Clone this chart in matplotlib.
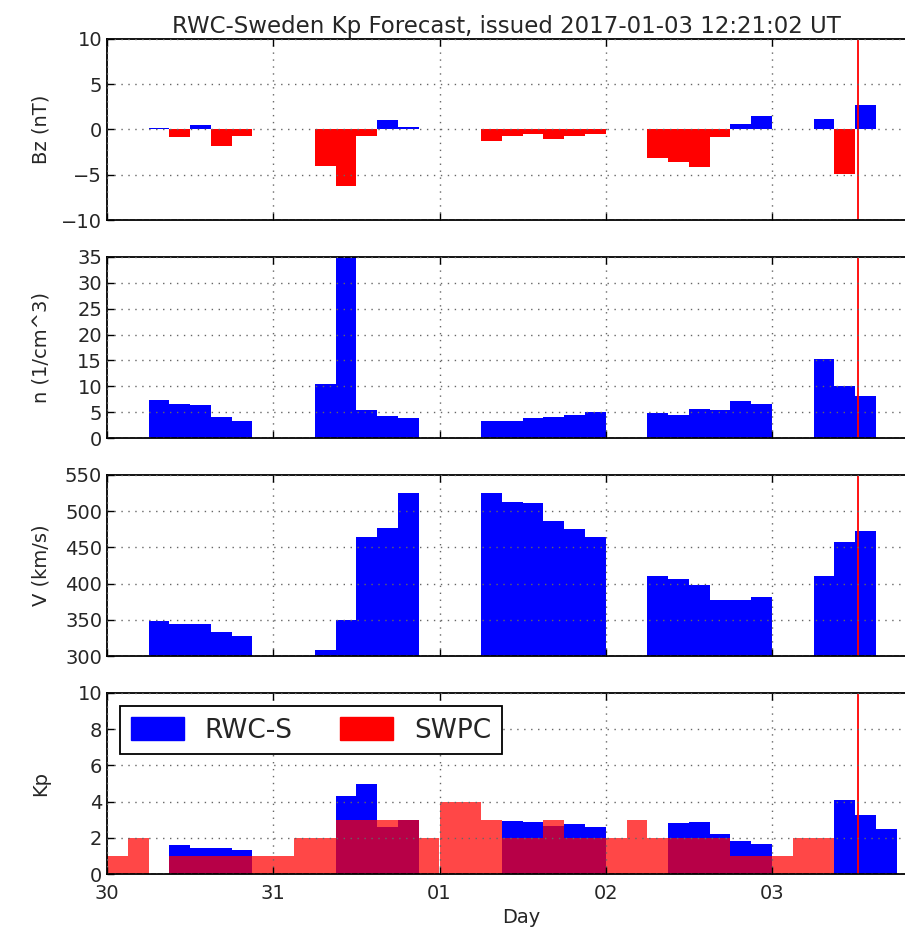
import numpy as np
import datetime as dt
import matplotlib
matplotlib.use('Agg')
import matplotlib.pyplot as plt
import matplotlib.dates as mdates
from matplotlib.patches import Patch

nan = np.nan

# 3-hour bins starting 2016-12-30 00:00 UT, 8 bins per day (00,03,...,21)
t0 = dt.datetime(2016, 12, 30)
issued = dt.datetime(2017, 1, 3, 12, 21, 2)

bz = [nan, nan, 0.2, -0.85, 0.45, -1.85, -0.7, nan,      # 30
      nan, nan, -4.0, -6.2, -0.7, 1.0, 0.3, nan,         # 31
      nan, nan, -1.3, -0.7, -0.45, -1.0, -0.7, -0.5,     # 01
      nan, nan, -3.15, -3.6, -4.15, -0.85, 0.6, 1.45,    # 02
      nan, nan, 1.15, -4.9, 2.75, nan, nan, nan]         # 03

dens = [nan, nan, 7.3, 6.6, 6.3, 4.0, 3.3, nan,
        nan, nan, 10.35, 36.0, 5.4, 4.3, 3.9, nan,
        nan, nan, 3.3, 3.3, 3.8, 4.1, 4.5, 5.0,
        nan, nan, 4.85, 4.5, 5.55, 5.35, 7.1, 6.6,
        nan, nan, 15.2, 10.15, 8.1, nan, nan, nan]

vel = [nan, nan, 349, 344, 344, 333, 328, nan,
       nan, nan, 308, 350, 465, 477, 525, nan,
       nan, nan, 525, 513, 511, 486, 475, 464,
       nan, nan, 410, 407, 398, 378, 378, 381,
       nan, nan, 410, 457, 473, nan, nan, nan]

kp_rwc = [nan, nan, nan, 1.6, 1.45, 1.45, 1.3, nan,
          nan, nan, nan, 4.3, 5.0, 2.6, 3.0, nan,
          nan, nan, nan, 2.95, 2.9, 2.65, 2.75, 2.6,
          nan, nan, nan, 2.8, 2.9, 2.2, 1.8, 1.65,
          nan, nan, nan, 4.1, 3.25, 2.5, nan, nan]

kp_swpc = [1, 2, 0, 1, 1, 1, 1, 1,
           1, 2, 2, 3, 3, 3, 3, 2,
           4, 4, 3, 2, 2, 3, 2, 2,
           2, 3, 2, 2, 2, 2, 1, 1,
           1, 2, 2, nan, nan, nan, nan, nan]

times = [t0 + dt.timedelta(hours=3 * i) for i in range(len(bz))]
x = mdates.date2num(times)
w = 3.0 / 24

plt.rcParams['font.family'] = 'DejaVu Sans'
plt.rcParams['xtick.direction'] = 'in'
plt.rcParams['ytick.direction'] = 'in'
plt.rcParams['xtick.top'] = True
plt.rcParams['ytick.right'] = True
plt.rcParams['axes.linewidth'] = 1.3
plt.rcParams['font.size'] = 14
plt.rcParams['text.color'] = '0.15'
plt.rcParams['xtick.labelcolor'] = '0.15'
plt.rcParams['ytick.labelcolor'] = '0.15'
plt.rcParams['axes.labelcolor'] = '0.15'

# axes run past the right edge of the figure (right spine cropped off)
x_right = 935
fig = plt.figure(figsize=(9.05, 9.38), dpi=100)
left = 107 / 905.
width = (x_right - 107) / 905.
h = 181 / 938.
bottoms = [1 - 220 / 938., 1 - 438 / 938., 1 - 656 / 938., 1 - 874 / 938.]
axs = [fig.add_axes([left, b, width, h]) for b in bottoms]

xmin = mdates.date2num(t0)
xmax = xmin + (x_right - 107) / 166.25

bz = np.array(bz)
cols = ['b' if v >= 0 else 'r' for v in np.nan_to_num(bz)]
axs[0].bar(x, bz, width=w, align='edge', color=cols, linewidth=0)
axs[0].set_ylim(-10, 10)
axs[0].set_yticks([-10, -5, 0, 5, 10])
axs[0].set_ylabel('Bz (nT)')
axs[0].set_title('RWC-Sweden Kp Forecast, issued ' + issued.strftime('%Y-%m-%d %H:%M:%S') + ' UT',
                 fontsize=16.5, pad=4, x=(506 - 107) / (x_right - 107))

axs[1].bar(x, dens, width=w, align='edge', color='b', linewidth=0)
axs[1].set_ylim(0, 35)
axs[1].set_yticks(range(0, 36, 5))
axs[1].set_ylabel('n (1/cm^3)')

axs[2].bar(x, vel, width=w, align='edge', color='b', linewidth=0)
axs[2].set_ylim(300, 550)
axs[2].set_yticks(range(300, 551, 50))
axs[2].set_ylabel('V (km/s)')

axs[3].bar(x, kp_rwc, width=w, align='edge', color='b', linewidth=0)
axs[3].bar(x, kp_swpc, width=w, align='edge', color='r', alpha=0.72, linewidth=0)
axs[3].set_ylim(0, 10)
axs[3].set_yticks(range(0, 11, 2))
axs[3].set_ylabel('Kp')
axs[3].set_xlabel('Day')
handles = [Patch(facecolor='b', edgecolor='b'), Patch(facecolor='r', edgecolor='r')]
leg = axs[3].legend(handles, ['RWC-S', 'SWPC'], loc='upper left', ncol=2, fontsize=19,
                    fancybox=False, framealpha=1, edgecolor='k', borderaxespad=0.5,
                    handlelength=2.0, handleheight=1.0, columnspacing=1.8)
leg.get_frame().set_linewidth(1.3)

for ax in axs:
    ax.set_xlim(xmin, xmax)
    ax.xaxis.set_major_locator(mdates.DayLocator())
    ax.xaxis.set_major_formatter(mdates.DateFormatter('%d'))
    ax.grid(True, linestyle=(0, (1, 4)), color='0.4', linewidth=1.0)
    ax.set_axisbelow(False)
    ax.axvline(mdates.date2num(issued), color='r', linewidth=1.3)
    ax.tick_params(length=5, width=1, labelsize=14)
    ax.tick_params(axis='x', pad=7)
    ax.yaxis.set_label_coords(-0.07 * 811 / (x_right - 107), 0.5)
for ax in axs[:3]:
    ax.tick_params(labelbottom=False)

fig.savefig('out.png', dpi=100, facecolor='white')
